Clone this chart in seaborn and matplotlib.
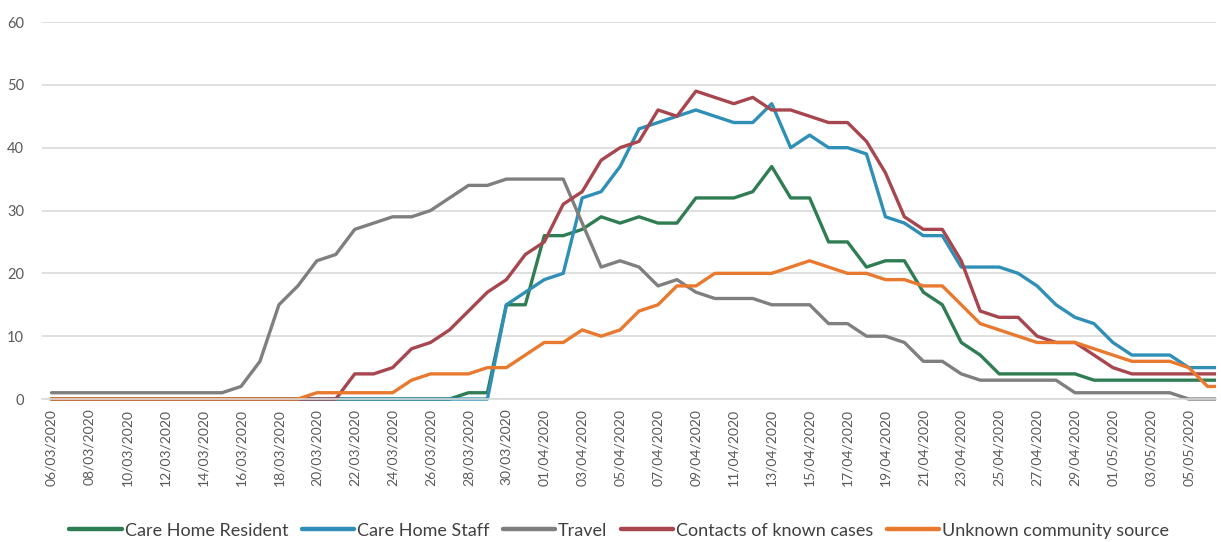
import pandas as pd
import seaborn as sns
import matplotlib.pyplot as plt
from matplotlib.lines import Line2D
from matplotlib.transforms import Bbox, TransformedBbox

# daily dates (last day is only partly visible at the right edge)
dates = list(pd.date_range("2020-03-06", "2020-05-07").strftime("%d/%m/%Y"))

series_names = ["Care Home Resident", "Care Home Staff", "Travel",
                "Contacts of known cases", "Unknown community source"]
colors = ["#2F7D52", "#2F8FB7", "#7F7F80", "#A7464E", "#E8792F"]

resident = [0] * 22 + [1, 1, 15, 15, 26, 26, 27, 29, 28, 29,
                       28, 28, 32, 32, 32, 33, 37, 32, 32, 25,
                       25, 21, 22, 22, 17, 15, 9, 7, 4, 4,
                       4, 4, 4, 3, 3, 3, 3, 3, 3, 3, 3]
staff = [0] * 24 + [15, 17, 19, 20, 32, 33, 37, 43, 44, 45,
                    46, 45, 44, 44, 47, 40, 42, 40, 40, 39,
                    29, 28, 26, 26, 21, 21, 21, 20, 18, 15,
                    13, 12, 9, 7, 7, 7, 5, 5, 5]
travel = [1] * 10 + [2, 6, 15, 18, 22, 23, 27, 28, 29, 29,
                     30, 32, 34, 34, 35, 35, 35, 35, 28, 21,
                     22, 21, 18, 19, 17, 16, 16, 16, 15, 15,
                     15, 12, 12, 10, 10, 9, 6, 6, 4, 3,
                     3, 3, 3, 3, 1, 1, 1, 1, 1, 1,
                     0, 0, 0]
contacts = [0] * 16 + [4, 4, 5, 8,
                       9, 11, 14, 17, 19, 23, 25, 31, 33, 38,
                       40, 41, 46, 45, 49, 48, 47, 48, 46, 46,
                       45, 44, 44, 41, 36, 29, 27, 27, 22, 14,
                       13, 13, 10, 9, 9, 7, 5, 4, 4, 4,
                       4, 4, 4]
community = [0] * 14 + [1, 1, 1, 1, 1, 3,
                        4, 4, 4, 5, 5, 7, 9, 9, 11, 10,
                        11, 14, 15, 18, 18, 20, 20, 20, 20, 21,
                        22, 21, 20, 20, 19, 19, 18, 18, 15, 12,
                        11, 10, 9, 9, 9, 8, 7, 6, 6, 6,
                        5, 2, 2]

values = [resident, staff, travel, contacts, community]
rows = []
for name, vals in zip(series_names, values):
    for i, v in enumerate(vals):
        rows.append({"day": i, "date": dates[i], "source": name, "cases": v})
df = pd.DataFrame(rows)

sns.set_style("white")
plt.rcParams["font.family"] = ["Lato", "DejaVu Sans"]

fig = plt.figure(figsize=(12.21, 5.42), dpi=100)
ax = fig.add_axes([0.0344, 0.2638, 0.9615, 0.6956])

sns.lineplot(data=df, x="day", y="cases", hue="source", hue_order=series_names,
             palette=colors, linewidth=2.4, legend=False, ax=ax)

x_right = 61.44
ax.set_xlim(-0.5, x_right)
ax.set_ylim(0, 60)

# let lines sit fully on the zero line but cut them at the right edge
clip = TransformedBbox(Bbox([[-0.5, -3], [x_right, 63]]), ax.transData)
for ln in ax.lines:
    ln.set_clip_path(None)
    ln.set_clip_box(clip)

ax.set_yticks(range(0, 61, 10))
ax.yaxis.grid(True, color="#D9D9D9", linewidth=1.2)
ax.set_axisbelow(True)
for s in ["top", "right", "left"]:
    ax.spines[s].set_visible(False)
ax.spines["bottom"].set_color("#D9D9D9")
ax.spines["bottom"].set_linewidth(1.2)

label_pos = list(range(0, 61, 2))
ax.set_xticks(label_pos)
ax.set_xticklabels([dates[i] for i in label_pos], rotation=90)
ax.set_xticks([p - 0.5 for p in label_pos], minor=True)
ax.tick_params(axis="x", which="major", length=0, pad=7, labelsize=10, labelcolor="#595959")
ax.tick_params(axis="x", which="minor", length=5, color="#D9D9D9", width=1.2)
ax.tick_params(axis="y", length=0, pad=13, labelsize=10.5, labelcolor="#595959")
ax.set_xlabel("")
ax.set_ylabel("")

handles = [Line2D([0], [0], color=c, linewidth=3.2) for c in colors]
fig.legend(handles, series_names, loc="center", bbox_to_anchor=(0.507, 0.021),
           ncol=5, frameon=False, fontsize=13, handlelength=2.9,
           handletextpad=0.15, columnspacing=0.75, labelcolor="#404040")

plt.savefig("out.png", dpi=100)
plt.close()
